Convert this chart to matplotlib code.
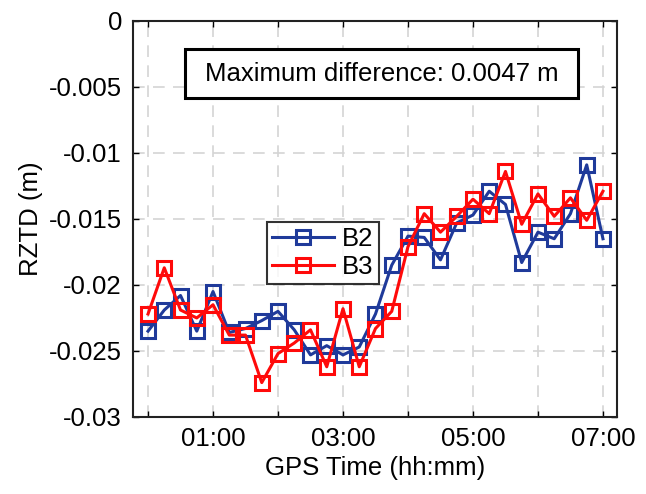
import matplotlib
matplotlib.use("Agg")
import matplotlib.pyplot as plt
from matplotlib.patches import Rectangle
import numpy as np

plt.rcParams['font.family'] = ['Liberation Sans', 'DejaVu Sans']
plt.rcParams['axes.unicode_minus'] = False

# epochs every 15 minutes, in hours from 00:00
hours = [i * 0.25 for i in range(29)]

b2 = [-0.0235, -0.0219, -0.0208, -0.0235, -0.0205, -0.0236, -0.0233, -0.0227,
      -0.0220, -0.0234, -0.0253, -0.0246, -0.0253, -0.0247, -0.0222, -0.0185,
      -0.0163, -0.0164, -0.0181, -0.0153, -0.0147, -0.0129, -0.0139, -0.0183,
      -0.0160, -0.0165, -0.0146, -0.0109, -0.0165]
b3 = [-0.0222, -0.0187, -0.0219, -0.0225, -0.0215, -0.0238, -0.0238, -0.0274,
      -0.0252, -0.0244, -0.0234, -0.0262, -0.0218, -0.0262, -0.0233, -0.0220,
      -0.0171, -0.0146, -0.0160, -0.0148, -0.0135, -0.0146, -0.0114, -0.0154,
      -0.0131, -0.0148, -0.0134, -0.0151, -0.0129]

xticks = [0, 1, 2, 3, 4, 5, 6, 7]
xticklabels = ['', '01:00', '', '03:00', '', '05:00', '', '07:00']
yticks = [0, -0.005, -0.01, -0.015, -0.02, -0.025, -0.03]
yticklabels = ['0', '-0.005', '-0.01', '-0.015', '-0.02', '-0.025', '-0.03']

max_diff = max(abs(a - b) for a, b in zip(b2, b3))

fig = plt.figure(figsize=(6.46, 4.94), dpi=100)
ax = fig.add_axes([0.206, 0.156, 0.749, 0.8015])

fs = 18.5
mk = dict(marker='s', markersize=10, markerfacecolor='none', markeredgewidth=2.2, linewidth=2.2)
ax.plot(hours, b2, color='#1f3a9a', label='B2', **mk)
ax.plot(hours, b3, color='#ff0a0a', label='B3', **mk)

ax.set_xlim(-0.23, 7.215)
ax.set_ylim(-0.03, 0)
ax.set_xticks(xticks)
ax.set_xticklabels(xticklabels, fontsize=fs)
ax.set_yticks(yticks)
ax.set_yticklabels(yticklabels, fontsize=fs)
ax.tick_params(axis='y', direction='in', length=4, width=1, right=True, pad=8)
ax.tick_params(axis='x', direction='in', length=4, width=1, top=True, pad=7)
ax.grid(True, linestyle=(0, (7, 5)), color='#d4d4d4', linewidth=1.2)
ax.set_axisbelow(True)
for s in ax.spines.values():
    s.set_linewidth(1.5)
    s.set_color('#222222')

ax.set_xlabel('GPS Time (hh:mm)', fontsize=fs, labelpad=4)
ax.set_ylabel('RZTD (m)', fontsize=fs, labelpad=4)

# annotation box with the largest B2/B3 discrepancy
ax.add_patch(Rectangle((0.108, 0.805), 0.812, 0.124, transform=ax.transAxes,
                       facecolor='white', edgecolor='black', linewidth=2.2, zorder=5))
ax.text(0.514, 0.867, f'Maximum difference: {max_diff:.4f} m', transform=ax.transAxes,
        ha='center', va='center', fontsize=fs, zorder=6)

leg = ax.legend(loc='lower left', bbox_to_anchor=(0.277, 0.336, 0.231, 0.172),
                mode='expand', fontsize=fs, frameon=True, fancybox=False,
                handlelength=2.4, handletextpad=0.3, borderpad=0.2, labelspacing=0.15,
                borderaxespad=0)
leg.get_frame().set_edgecolor('black')
leg.get_frame().set_linewidth(1.5)

fig.savefig('out.png', dpi=100)
